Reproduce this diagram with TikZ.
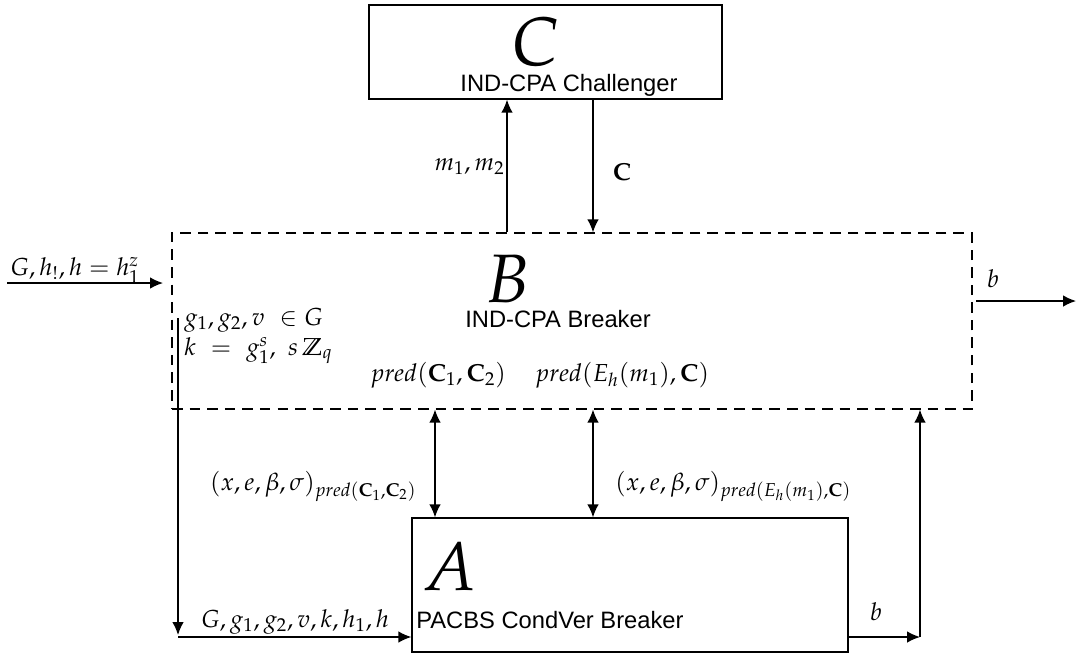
\documentclass[tikz,border=0pt,12pt]{standalone}
\usepackage{mathpazo}
\usepackage[no-math]{fontspec}
\newfontfamily\labelsf{Liberation Sans}
\usetikzlibrary{arrows.meta,positioning}

\begin{document}
\begin{tikzpicture}[x=0.02cm, y=-0.02cm, >={Latex[length=7.4pt,width=6.6pt]},
    box/.style={draw, line width=0.8pt, rectangle, inner sep=0pt},
    dashbox/.style={draw, line width=0.75pt, dash pattern=on 6pt off 4pt, rectangle, inner sep=0pt},
    wire/.style={line width=0.8pt},
    bigletter/.style={anchor=base, inner sep=0pt, font=\fontsize{39}{40}\selectfont},
    title/.style={anchor=base, inner sep=0pt, font=\labelsf\fontsize{13.5}{15}\selectfont},
    msg/.style={inner sep=0pt, font=\fontsize{14}{17}\selectfont}]
    \useasboundingbox (0,0) rectangle (1077,653);

    % The three parties
    \node[box, minimum width=7.06cm, minimum height=1.88cm] (chal) at (545.5,52) {};
    \node[dashbox, minimum width=16cm, minimum height=3.52cm] (brk) at (572,321) {};
    \node[box, minimum width=8.72cm, minimum height=2.68cm] (adv) at (630,585) {};

    % Names inside the boxes
    \node[bigletter] (chalL) at (536,65) {$C$};
    \node[title] (chalT) at (569,91) {IND-CPA Challenger};
    \node[bigletter] (brkL) at (508,302) {$B$};
    \node[title] (brkT) at (558,327) {IND-CPA Breaker};
    \node[bigletter] (advL) at (450,590) {$A$};
    \node[title, anchor=base west] (advT) at (416,628) {PACBS CondVer Breaker};

    % Columns of the vertical connectors
    \coordinate (mx) at (507,0);
    \coordinate (cx) at (593,0);
    \coordinate (p1) at (435,0);
    \coordinate (p2) at (593,0);

    % Challenger <-> Breaker
    \draw[wire, ->] (brk.north -| mx) -- (chal.south -| mx);
    \draw[wire, ->] (chal.south -| cx) -- (brk.north -| cx);
    \node[msg, anchor=base east] (mLab) at (505,170) {$m_1, m_2$};
    \node[msg, anchor=base] (cLab) at (622,180) {$\mathbf{C}$};

    % Input and output of the breaker
    \coordinate (inS) at (7,283);
    \coordinate (inE) at (163,283);
    \draw[wire, ->] (inS) -- (inE);
    \node[msg, anchor=base] (inLab) at (75,275) {$G, h_!, h = h_1^z$};
    \coordinate (outS) at (976,301);
    \coordinate (outE) at (1076,301);
    \draw[wire, ->] (outS) -- (outE);
    \node[msg, anchor=base] (outLab) at (993,287) {$b$};

    % Setup values chosen by the breaker
    \node[msg, anchor=base west] (setup1) at (184,325) {$g_1, g_2, v\ \in G$};
    \node[msg, anchor=base west] (setup2) at (184,355) {$k\ =\ g_1^s,\ s\,\mathbb{Z}_q$};
    \node[msg, anchor=base] (pred1) at (438,381) {$pred(\mathbf{C}_1, \mathbf{C}_2)$};
    \node[msg, anchor=base] (pred2) at (622,381) {$pred(E_h(m_1), \mathbf{C})$};

    % Breaker -> adversary
    \coordinate (split) at (178,318);
    \coordinate (corner) at (178,635);
    \coordinate (feed) at (178,637);
    \draw[wire, ->] (split) -- (corner);
    \draw[wire, ->] (feed) -- (adv.west |- feed);
    \node[msg, anchor=base] (feedLab) at (295,627) {$G, g_1, g_2, v, k, h_1, h$};

    % Prediction queries
    \draw[wire, <->] (brk.south -| p1) -- (adv.north -| p1);
    \draw[wire, <->] (brk.south -| p2) -- (adv.north -| p2);
    \node[msg, anchor=base east] (ans1) at (417,490) {$(x, e, \beta, \sigma)_{pred(\mathbf{C}_1, \mathbf{C}_2)}$};
    \node[msg, anchor=base west] (ans2) at (615,490) {$(x, e, \beta, \sigma)_{pred(E_h(m_1), \mathbf{C})}$};

    % Adversary output back to the breaker
    \coordinate (bA) at (920,637);
    \draw[wire, ->] (adv.east |- bA) -- (bA);
    \draw[wire, ->] (bA) -- (brk.south -| bA);
    \node[msg, anchor=base] (bLab) at (876,620) {$b$};
\end{tikzpicture}
\end{document}
